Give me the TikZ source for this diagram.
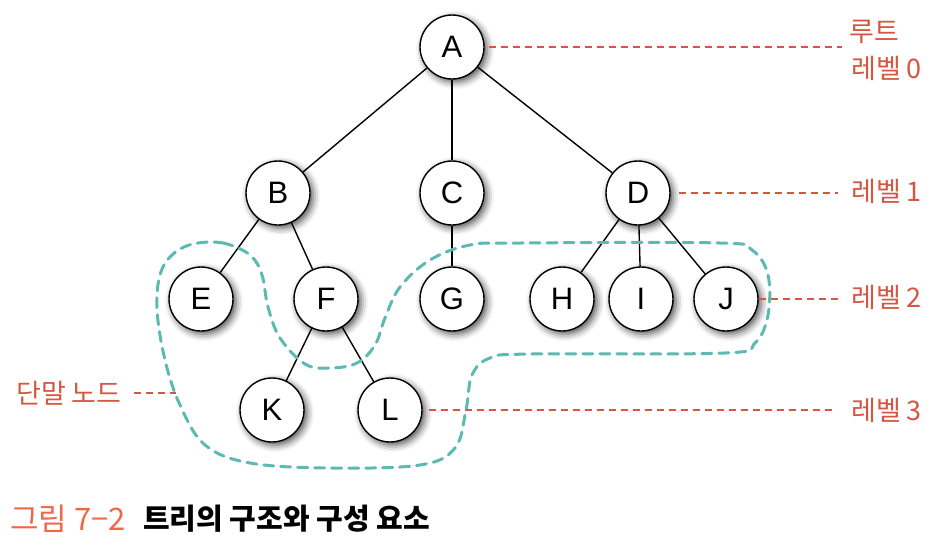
\documentclass[tikz,border=0pt]{standalone}
\usepackage{fontspec}
\setmainfont{Liberation Sans}
\newfontfamily\kr{Noto Sans CJK KR}
\usetikzlibrary{shadows.blur}
\definecolor{lvlred}{RGB}{214,86,66}
\definecolor{capred}{RGB}{236,106,74}
\definecolor{tealc}{RGB}{92,186,178}
\tikzset{
  tnode/.style={circle, draw=black, line width=1.4pt, fill=white, minimum size=64pt, inner sep=0pt,
    font=\fontsize{31}{31}\selectfont,
    blur shadow={shadow xshift=3pt, shadow yshift=-3pt, shadow blur radius=7pt, shadow opacity=70}},
  tedge/.style={line width=1.4pt, draw=black},
  lvl/.style={draw=lvlred, line width=1.8pt, dash pattern=on 7pt off 5pt},
  lbl/.style={text=lvlred, font=\kr\fontsize{27}{27}\selectfont, anchor=west, inner sep=0pt},
  leaf/.style={draw=tealc, line width=3pt, dash pattern=on 10pt off 7pt, line cap=round},
}
\begin{document}
\begin{tikzpicture}[x=1pt,y=-1pt]
\useasboundingbox (0,0) rectangle (934,547);
% nodes
\node[tnode] (A) at (452,47) {A};
\node[tnode] (B) at (278,193) {B};
\node[tnode] (C) at (452,193) {C};
\node[tnode] (D) at (638,193) {D};
\node[tnode] (E) at (201,299) {E};
\node[tnode] (F) at (326,299) {F};
\node[tnode] (G) at (452,299) {G};
\node[tnode] (H) at (562,299) {H};
\node[tnode] (I) at (641,299) {I};
\node[tnode] (J) at (726,299) {J};
\node[tnode] (K) at (272,410) {K};
\node[tnode] (L) at (390,410) {L};
% edges
\draw[tedge] (A) -- (B);
\draw[tedge] (A) -- (C);
\draw[tedge] (A) -- (D);
\draw[tedge] (B) -- (E);
\draw[tedge] (B) -- (F);
\draw[tedge] (C) -- (G);
\draw[tedge] (D) -- (H);
\draw[tedge] (D) -- (I);
\draw[tedge] (D) -- (J);
\draw[tedge] (F) -- (K);
\draw[tedge] (F) -- (L);
% labels
\node[lbl] (r0a) at (849,32) {루트};
\node[lbl] (r0b) at (851,68) {레벨 0};
\node[lbl] (r1) at (851,191) {레벨 1};
\node[lbl] (r2) at (851,297) {레벨 2};
\node[lbl] (r3) at (851,410) {레벨 3};
\node[lbl] (leafl) at (16,393) {단말 노드};
\coordinate (lt) at (176,393);
% level lines
\draw[lvl, shorten <=4pt, shorten >=9pt] (A.east) -- (A.east -| r0b.west);
\draw[lvl, shorten <=8pt, shorten >=13pt] (D.east) -- (D.east -| r1.west);
\draw[lvl, shorten >=9pt] (J.east) -- (J.east -| r2.west);
\draw[lvl, shorten <=6pt, shorten >=15pt] (L.east) -- (L.east -| r3.west);
\draw[lvl, shorten <=12pt] (leafl.east) -- (lt);
% leaf boundary
\draw[leaf] plot[smooth cycle, tension=0.6] coordinates {
 (193,244) (223,243) (250,255) (262,275) (268,307) (280,338) (305,364) (330,368)
 (357,363) (375,345) (385,318) (400,287) (430,260) (470,245) (520,243) (720,243)
 (752,250) (768,275) (768,315) (755,343) (725,353) (530,354) (490,358) (472,375)
 (466,410) (455,448) (420,465) (330,468) (250,463) (205,445) (180,405) (165,360)
 (157,310) (160,275) (172,255)};
% caption
\node[anchor=west, inner sep=0pt, text=capred, font=\kr\fontsize{31}{31}\selectfont] (cap1) at (10,519) {그림 7−2};
\node[anchor=west, inner sep=0pt, text=black, font=\kr\bfseries\fontsize{29}{29}\selectfont] (cap2) at (143,519) {트리의 구조와 구성 요소};
\end{tikzpicture}
\end{document}
